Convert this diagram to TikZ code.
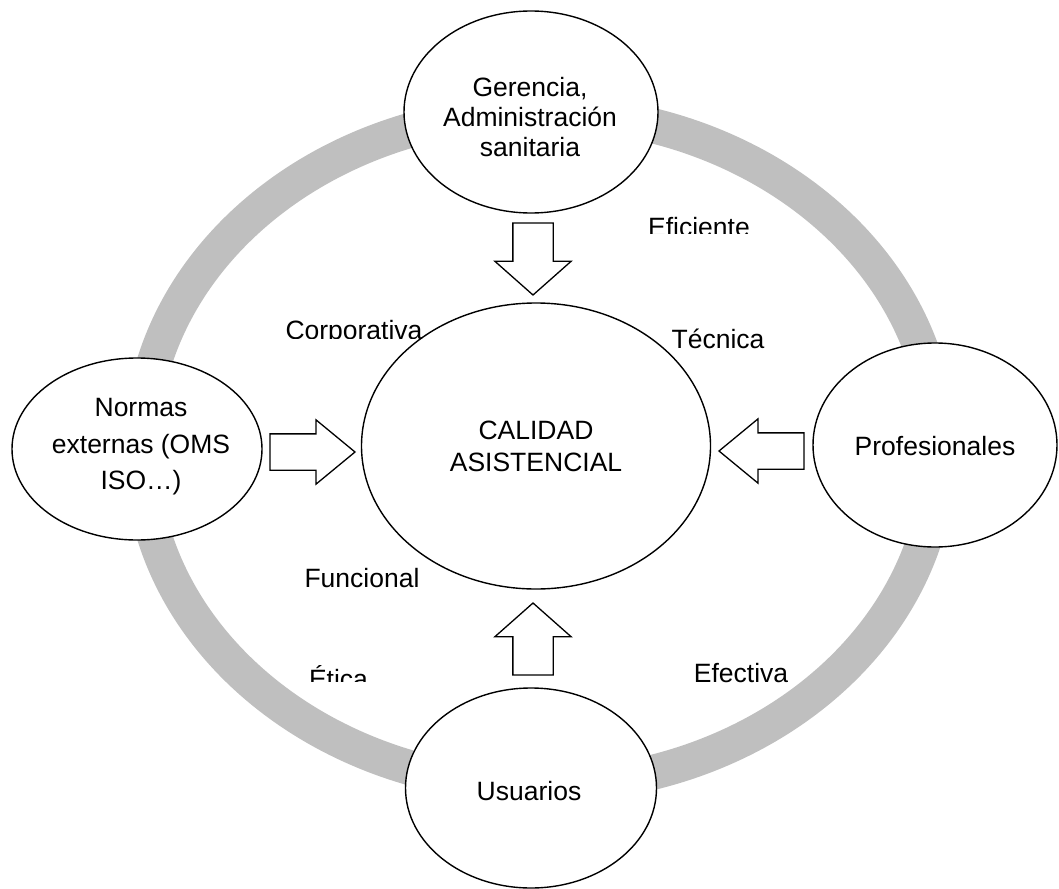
\documentclass[tikz,border=0pt]{standalone}
\usepackage{fontspec}
\setmainfont{Liberation Sans}
\usetikzlibrary{shapes.geometric,shapes.arrows}
\definecolor{ringgray}{RGB}{191,191,191}
\begin{document}
\begin{tikzpicture}[x=1pt,y=-1pt,
  bubble/.style={ellipse, draw=black, line width=1.4pt, fill=white, inner sep=0pt},
  txt/.style={font=\fontsize{26.5}{30}\selectfont, align=center, inner sep=0pt},
  lbl/.style={font=\fontsize{26.5}{30}\selectfont, inner sep=0pt},
  blockarrow/.style={single arrow, draw=black, line width=1.3pt, fill=white,
    inner xsep=0pt, outer sep=0pt},
  varrow/.style={blockarrow, inner ysep=19.5pt, minimum height=72pt, minimum width=75pt,
    single arrow head extend=18pt, single arrow tip angle=97},
  harrow/.style={blockarrow, inner ysep=17.5pt, minimum height=85pt, minimum width=63pt,
    single arrow head extend=14pt, single arrow tip angle=79}]
\useasboundingbox (0,0) rectangle (1059,888);

% grey cycle behind the five bubbles
\draw[ringgray, line width=35pt] (540,449) ellipse [x radius=399pt, y radius=337pt];

% bubbles
\node[bubble, minimum width=254pt, minimum height=202pt] (ger) at (531,112) {};
\node[bubble, minimum width=250pt, minimum height=182pt] (nor) at (137,449) {};
\node[bubble, minimum width=244pt, minimum height=204pt] (pro) at (935,445) {};
\node[bubble, minimum width=251pt, minimum height=200pt] (usu) at (531,788) {};
\node[bubble, minimum width=349pt, minimum height=286pt] (cal) at (536,446) {};

% bubble texts
\node[txt] (ger-t) at (530,117.5) {Gerencia,\\Administración\\sanitaria};
\node[txt, font=\fontsize{26.5}{36.5}\selectfont] (nor-t) at (141,446.8) {Normas\\externas (OMS\\ISO…)};
\node[txt, font=\fontsize{26.5}{32}\selectfont] (cal-t) at (536,446.6) {CALIDAD\\ASISTENCIAL};
\node[lbl, anchor=base] (pro-t) at (935,455) {Profesionales};
\node[lbl, anchor=base] (usu-t) at (529,800) {Usuarios};

% block arrows into the centre
\node[varrow, rotate=-90, anchor=tip] (a-ger) at (533,295) {};
\node[varrow, rotate=90, anchor=tip] (a-usu) at (533,603) {};
\node[harrow, anchor=tip] (a-nor) at (355,452) {};
\node[harrow, rotate=180, anchor=tip] (a-pro) at (719,451) {};

% quality dimensions
\begin{scope}
  \clip (600,200) rectangle (800,233);
  \node[lbl, anchor=base] (efi) at (699,236) {Eficiente};
\end{scope}
\begin{scope}
  \clip (260,300) rectangle (440,338.5);
  \node[lbl, anchor=base] (cor) at (354,339) {Corporativa};
\end{scope}
\node[lbl, anchor=base] (tec) at (718,348) {Técnica};
\node[lbl, anchor=base] (fun) at (362,587) {Funcional};
\begin{scope}
  \clip (290,650) rectangle (390,681);
  \node[lbl, anchor=base] (eti) at (338.5,688) {Ética};
\end{scope}
\node[lbl, anchor=base] (efe) at (741,682) {Efectiva};
\end{tikzpicture}
\end{document}
